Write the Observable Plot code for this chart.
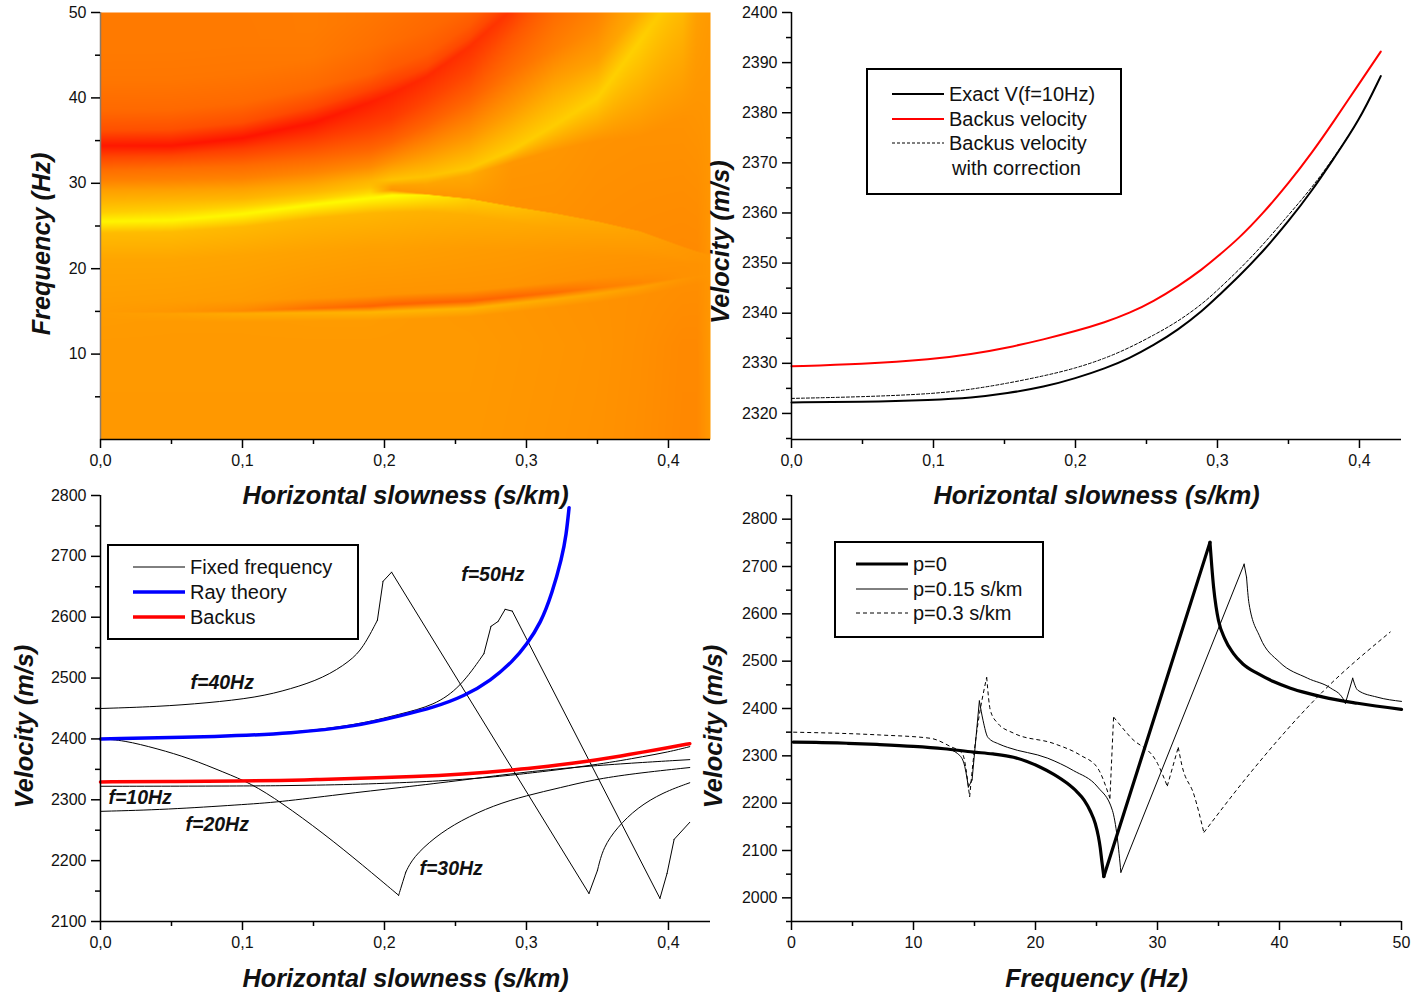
<!DOCTYPE html>
<html><head><meta charset="utf-8">
<script src="https://cdn.jsdelivr.net/npm/d3@7"></script>
<script src="https://cdn.jsdelivr.net/npm/@observablehq/plot@0.6"></script>
<style>
html,body{margin:0;padding:0;background:#fff;}
#root{position:relative;width:1416px;height:994px;overflow:hidden;font-family:"Liberation Sans",Arial,sans-serif;}
.panel{position:absolute;}
.legend{position:absolute;box-sizing:border-box;border:2px solid #000;background:#fff;}
.row{position:absolute;white-space:pre;font-size:20px;line-height:24px;color:#111;}
.sw{position:absolute;}
</style></head><body><div id="root"></div>
<script>
// ---------- Heat map: ridge curves (f in Hz, g = green level of a red→yellow ramp)
const heatX = [0,.05,.1,.15,.19,.205,.23,.26,.29,.32,.35,.38,.41,.42,.43];
const fBottom = heatX.map(()=>0);
const gBottom = [152,152,152,152,152,152,152,152,150,148,146,142,136,136,154];
const fLow = heatX.map(()=>11);
const gLow = [153,153,153,153,153,153,153,153,151,149,147,143,137,137,154];
const fShoulderLo = [13.85,13.75,13.75,13.85,13.9,14,14.15,14.35,14.9,15.45,16.05,16.8,17.8,18.1,18.4];
const gShoulderLo = [155,154,154,155,155,154,153,152,150,148,146,144,142,142,150];
const fStreakGold = [14.85,14.75,14.75,14.85,14.9,15,15.15,15.35,15.9,16.45,17.05,17.8,18.8,19.1,19.4];
const gStreakGold = [156,162,172,178,182,182,182,180,176,172,168,160,150,148,150];
const fStreakDark = [14.9,14.95,15.05,15.35,15.6,15.8,16,16.2,16.7,17.2,17.75,18.3,18.95,19.2,19.5];
const gStreakDark = [156,150,138,112,100,100,100,100,102,110,125,135,145,146,150];
const fShoulderHi = [16.1,16.15,16.25,16.55,16.8,17,17.2,17.4,17.9,18.4,18.95,19.4,19.95,20,20.1];
const gShoulderHi = [158,157,155,150,148,148,148,148,148,146,145,145,145,146,150];
const fMid1 = [21,21,21.5,22,22.3,22.3,22.3,22.3,22,21.8,21.6,21.2,20.6,20.5,20.4];
const gMid1 = [165,165,164,162,160,160,158,156,154,152,150,148,146,146,150];
const fMid2 = [24.2,24.3,24.9,25.9,26.5,26.6,26.7,26.3,25.4,24.6,23.7,22.6,21.2,20.9,20.8];
const gMid2 = [188,188,185,182,182,180,178,175,170,165,160,155,150,148,150];
const fYellow = [25.5,25.65,26.4,27.5,28.25,28.6,28.65,28.15,27.25,26.45,25.5,24.35,22.55,22,21.55];
const gYellow = [245,246,248,250,250,255,240,205,192,178,170,162,152,150,150];
const fEdge = [26.6,26.8,27.3,28.1,28.95,29.2,28.72,28.2,27.3,26.5,25.55,24.4,22.6,22.05,21.6];
const gEdge = [205,208,210,212,215,150,150,150,146,145,142,140,138,138,150];
const fWedge = [28,28.1,28.2,28.95,29.5,29.65,29.9,31,32.45,33.85,34.9,35.4,37.4,38,38.5];
const gWedge = [178,180,182,185,195,160,165,170,150,150,146,145,146,148,150];
const fGold = [29.2,29.3,29.4,29.9,30.35,30.4,30.8,31.75,33.85,36.8,40,46.7,53.5,56,58];
const gGold = [158,158,160,165,180,195,195,200,205,205,208,208,195,165,155];
const fAbove = [30.4,30.5,30.6,31.3,31.9,32.4,33.6,35.5,38.5,42,44.4,50.2,57,59,61];
const gAbove = [128,128,130,132,140,148,150,150,155,160,160,170,165,160,155];
const fRedLo1 = [31.5,31.7,32.1,32.9,33.9,34.8,36.8,39.8,43.2,45.6,47.9,54,60,62,64];
const gRedLo1 = [110,110,106,104,102,100,100,100,112,128,140,160,160,160,155];
const fRedLo2 = [33,33.2,34,35,36.5,37.6,39.6,43,47.3,49.6,51.4,58,65,67,69];
const gRedLo2 = [72,70,62,64,64,60,68,70,85,110,125,150,160,160,155];
const fRed = [34.4,34.4,35.3,37.1,39.5,40.5,42.5,46,50.4,56,62,69,75,77,79.5];
const gRed = [24,22,20,22,30,35,42,48,55,85,100,130,155,155,155];
const fRedUp1 = [36.2,36.3,37.1,38.9,41,41.8,43.6,47,52,58,64,71,77,79,81.5];
const gRedUp1 = [80,80,78,72,68,65,72,72,75,100,120,140,155,155,155];
const fRedUp2 = [38.5,38.6,39.4,41.2,42.8,43.5,45.2,48.5,54,60,66,73,79,81,83.5];
const gRedUp2 = [105,105,105,105,98,90,92,90,90,110,130,150,155,155,155];
const fRedUp3 = [42,42.1,42.9,44.7,46,46.5,47.8,50.5,56,62,68,75,81,83,85.5];
const gRedUp3 = [118,118,118,120,112,108,104,102,102,120,140,155,155,155,155];
const fHigh = [45.5,45.6,46.4,48,49.5,50,51,53,58,64,70,77,83,85,87.5];
const gHigh = [122,122,122,124,118,115,110,110,110,130,150,155,155,155,155];
const fTop = heatX.map(()=>100);
const gTop = [128,128,128,125,120,120,118,118,118,135,150,155,155,155,155];
const heatF = [fBottom,fLow,fShoulderLo,fStreakGold,fStreakDark,fShoulderHi,fMid1,fMid2,fYellow,fEdge,fWedge,fGold,fAbove,fRedLo1,fRedLo2,fRed,fRedUp1,fRedUp2,fRedUp3,fHigh,fTop];
const heatG = [gBottom,gLow,gShoulderLo,gStreakGold,gStreakDark,gShoulderHi,gMid1,gMid2,gYellow,gEdge,gWedge,gGold,gAbove,gRedLo1,gRedLo2,gRed,gRedUp1,gRedUp2,gRedUp3,gHigh,gTop];

// ---------- Panel B
const slowB = [0,.049,.1,.1265,.152,.178,.2,.221,.238,.255,.272,.29,.3,.315,.332,.35,.367,.381,.4,.415];
const exactV = [2322.2,2322.3,2322.7,2323.1,2324,2325.3,2327,2329,2331,2333.6,2336.6,2340.6,2343.3,2347.3,2352.3,2358.3,2364.6,2370.5,2378.5,2387.3];
const backusV = [2329.4,2329.8,2330.8,2331.8,2333.1,2334.8,2336.4,2338.2,2340,2342.4,2345.3,2348.9,2351.3,2354.9,2359.9,2365.9,2372.2,2377.9,2385.9,2392.2];
const correctedV = [2323,2323.3,2323.9,2324.8,2326,2327.5,2329,2331,2333.1,2335.6,2338.3,2342,2344.6,2348.6,2353.6,2359.6,2365.2,2370.7,2378.5,2387.3];

// ---------- Panel C (each inner list is one smooth stretch between corners)
const f20 = [[[0,2281],[.047,2284],[.099,2292],[.125,2296],[.169,2309],[.211,2320],[.258,2333],[.289,2343],[.343,2356],[.415,2366]]];
const f30 = [[[0,2400],[.016,2398],[.04,2384],[.063,2368],[.087,2345],[.106,2327],[.127,2296],[.157,2245],[.185,2192],[.21,2143]],
  [[.21,2143],[.211,2151],[.215,2181]],
  [[.215,2181],[.22,2205],[.235,2238],[.2535,2266],[.277,2291],[.3,2307],[.324,2320],[.347,2333],[.375,2343],[.415,2353]]];
const f40 = [[[0,2450],[.04,2453],[.075,2459],[.11,2468],[.134,2482],[.157,2500],[.176,2528],[.185,2550],[.195,2595]],
  [[.195,2595],[.199,2659]],[[.199,2659],[.205,2674]],[[.205,2674],[.344,2146]],
  [[.344,2146],[.35,2184]],[[.35,2184],[.354,2222],[.364,2255],[.378,2287],[.396,2312],[.415,2328]]];
const f50 = [[[0,2400],[.087,2404],[.134,2410],[.181,2423],[.211,2441],[.235,2455],[.2535,2485],[.27,2540]],
  [[.27,2540],[.275,2585]],[[.275,2585],[.28,2593]],[[.28,2593],[.285,2613]],[[.285,2613],[.29,2610]],[[.29,2610],[.394,2138]],
  [[.394,2138],[.399,2179]],[[.399,2179],[.404,2235]],[[.404,2235],[.415,2263]]];
const rayTheory = [[0,2400],[.087,2404],[.134,2409],[.181,2421],[.211,2438],[.235,2452],[.256,2470],[.275,2496],[.291,2529],[.3,2555],[.31,2590],[.318,2639],[.325,2698],[.328,2735],[.33,2780]];
const annotX = [.254,.0634,.0056,.0599,.2246];
const annotV = [2670,2493,2304,2259,2187];
const annotT = ["f=50Hz","f=40Hz","f=10Hz","f=20Hz","f=30Hz"];

// ---------- Panel D
const p0 = [[[.14,2329],[2,2328.5],[4.6,2326.5],[7,2324],[10,2320],[12.5,2315],[14.9,2308],[16.5,2304],[18.2,2297],[19.3,2288],[20.4,2276],[21.5,2261],[22.6,2242],[23.4,2224],[24,2206],[24.5,2183],[24.9,2157],[25.15,2130],[25.3,2107],[25.45,2075],[25.6,2045]],
  [[25.6,2045],[34.3,2751]],
  [[34.3,2751],[34.45,2700],[34.6,2656],[34.8,2615],[35,2586],[35.5,2548],[36.2,2517],[37,2494],[38.2,2474],[39.5,2457],[40.9,2443],[42.2,2433],[43.6,2424],[46.4,2411],[50,2398]]];
const p15 = [[[.14,2329],[4.6,2326.5],[10,2320],[12.8,2314],[13.6,2305],[14.1,2287],[14.5,2234]],
  [[14.5,2234],[14.8,2249]],[[14.8,2249],[15.4,2416]],
  [[15.4,2416],[15.7,2375],[16.1,2339],[17,2325],[17.7,2318],[21,2295],[23.1,2269],[25.1,2234],[26.3,2185],[26.7,2128],[27,2054]],
  [[27,2054],[37.1,2705]],[[37.1,2705],[37.3,2677]],
  [[37.3,2677],[37.5,2622],[38.4,2551],[40,2498],[42.3,2464],[44.2,2443],[45.2,2421],[45.4,2411]],
  [[45.4,2411],[46,2464]],[[46,2464],[46.4,2439],[48,2424],[50,2415]]];
const p30 = [[[.14,2350],[7.3,2344],[11.4,2337],[13,2320],[14,2305],[14.6,2213]],
  [[14.6,2213],[14.9,2291],[16,2466]],
  [[16,2466],[16.3,2396],[16.9,2369],[18.2,2348],[21.5,2326],[23.7,2301],[25.1,2274],[26.1,2210]],
  [[26.1,2210],[26.4,2382]],
  [[26.4,2382],[27.8,2339],[30,2284],[30.8,2236]],
  [[30.8,2236],[31.7,2318]],[[31.7,2318],[32,2280],[33,2217],[33.8,2138]],
  [[33.8,2138],[37.8,2270],[43.6,2437],[49.1,2562]]];

// ---------- Tick lists
const slowMajor = [0,.1,.2,.3,.4];
const slowMinor = [.05,.15,.25,.35];
const freqMajorA = [10,20,30,40,50];
const freqMinorA = [5,15,25,35,45];
const velMajorB = d3.range(2320,2401,10);
const velMinorB = d3.range(2315,2400,10);
const velMajorC = d3.range(2100,2801,100);
const velMinorC = d3.range(2150,2800,100);
const velMajorD = d3.range(2000,2801,100);
const velMinorD = d3.range(1950,2851,100);
const freqMajorD = [0,10,20,30,40,50];
const freqMinorD = [5,15,25,35,45];

const FONT = '"Liberation Sans",Arial,sans-serif';
const comma = d => d.toFixed(1).replace(".",",");
const TICK = 16;
const TITLE = 25.3;

function axes({xMajor,xMinor,yMajor,yMinor,xFmt,xLabel,yLabel,yLabelDx,yLabelDy,xMin,yMin,xLabelDy,yLine="#000"}){
  return [
    Plot.ruleX([xMin],{stroke:yLine,strokeWidth:1.5}),
    Plot.ruleY([yMin],{stroke:"#000",strokeWidth:1.5}),
    Plot.axisX({ticks:xMajor,tickSize:9,tickPadding:6,tickFormat:xFmt,label:null,fontSize:TICK,strokeWidth:1.5,stroke:"#000",fill:"#111",anchor:"bottom"}),
    Plot.axisX({ticks:xMinor,tickSize:5,tickFormat:()=>"",label:null,strokeWidth:1.5,stroke:"#000",anchor:"bottom"}),
    Plot.axisY({ticks:yMajor,tickSize:9,tickPadding:5,label:null,tickFormat:d=>String(d),fontSize:TICK,strokeWidth:1.5,stroke:"#000",fill:"#111",anchor:"left"}),
    Plot.axisY({ticks:yMinor,tickSize:5,tickFormat:()=>"",label:null,strokeWidth:1.5,stroke:"#000",anchor:"left"}),
    Plot.text([xLabel],{frameAnchor:"bottom",dy:xLabelDy,lineAnchor:"middle",fontSize:TITLE,fontWeight:"bold",fontStyle:"italic",fill:"#111",text:d=>d}),
    Plot.text([yLabel],{frameAnchor:"left",dx:yLabelDx,dy:yLabelDy,rotate:-90,textAnchor:"middle",lineAnchor:"middle",fontSize:TITLE,fontWeight:"bold",fontStyle:"italic",fill:"#111",text:d=>d})
  ];
}

function place(plot,left,top){
  const d=document.createElement("div");
  d.className="panel";d.style.left=left+"px";d.style.top=top+"px";d.style.width="716px";
  d.appendChild(plot);document.getElementById("root").appendChild(d);
}
const base = {width:716,style:{background:"transparent",fontFamily:FONT,overflow:"visible"}};

// Flatten stretches into rows with a stretch id, so each is drawn as its own smooth piece
const stretches = list => list.flatMap((s,i)=>s.map(p=>({x:p[0],y:p[1],z:i})));
function piecewise(list,opts){
  return Plot.line(stretches(list),{x:"x",y:"y",z:"z",curve:"monotone-x",strokeLinecap:"round",stroke:"#000",strokeWidth:1,...opts});
}

// Look up the heat level between the hand-read ridge curves
function level(x,f){
  let j=d3.bisectRight(heatX,x)-1; j=Math.max(0,Math.min(heatX.length-2,j));
  const t=(x-heatX[j])/(heatX[j+1]-heatX[j]);
  let pf=-1,pg=0;
  for(let k=0;k<heatF.length;k++){
    const ff=heatF[k][j]*(1-t)+heatF[k][j+1]*t, gg=heatG[k][j]*(1-t)+heatG[k][j+1]*t;
    if(ff>=f){
      if(k===0) return gg;
      return pg+(gg-pg)*(f-pf)/Math.max(ff-pf,1e-6);
    }
    pf=ff;pg=gg;
  }
  return pg;
}

// Panel A
place(Plot.plot({...base,height:512,marginLeft:100,marginRight:6,marginTop:12,marginBottom:73,
  x:{domain:[0,.4296]},y:{domain:[0,50]},
  color:{type:"linear",domain:[0,255],range:["#ff0000","#ffff00"],interpolate:"rgb"},
  marks:[
    Plot.raster({fill:(x,y)=>level(x,y),x1:0,x2:.4296,y1:0,y2:50,pixelSize:1}),
    ...axes({xMajor:slowMajor,xMinor:slowMinor,yMajor:freqMajorA,yMinor:freqMinorA,xFmt:comma,xLabel:"Horizontal slowness (s/km)",yLabel:"Frequency (Hz)",yLabelDx:-59,yLabelDy:18,xMin:0,yMin:0,xLabelDy:56,yLine:"#8a7a6a"})
  ]}),0,0);

// Panel B
const tableB = slowB.map((x,i)=>({x,exact:exactV[i],backus:backusV[i],corrected:correctedV[i]}));
place(Plot.plot({...base,height:512,marginLeft:91,marginRight:15,marginTop:12,marginBottom:73,
  x:{domain:[0,.4296]},y:{domain:[2314.8,2400]},
  marks:[
    Plot.line(tableB,{x:"x",y:"corrected",stroke:"#000",strokeWidth:1,strokeDasharray:"3,2",curve:"basis"}),
    Plot.line(tableB,{x:"x",y:"exact",stroke:"#000",strokeWidth:2,curve:"basis"}),
    Plot.line(tableB,{x:"x",y:"backus",stroke:"#f00",strokeWidth:2,curve:"basis"}),
    ...axes({xMajor:slowMajor,xMinor:slowMinor,yMajor:velMajorB,yMinor:velMinorB,xFmt:comma,xLabel:"Horizontal slowness (s/km)",yLabel:"Velocity (m/s)",yLabelDx:-71,yLabelDy:16,xMin:0,yMin:2314.8,xLabelDy:56})
  ]}),700,0);

// Panel C
const smooth = {curve:"basis"};
place(Plot.plot({...base,height:511,marginLeft:100,marginRight:6,marginTop:12,marginBottom:73,
  x:{domain:[0,.4296]},y:{domain:[2100,2800]},
  marks:[
    Plot.line(tableB,{x:"x",y:"exact",stroke:"#000",strokeWidth:1,curve:"basis"}),
    piecewise(f20,smooth),piecewise(f30,smooth),piecewise(f40,smooth),piecewise(f50,smooth),
    Plot.line(rayTheory,{x:d=>d[0],y:d=>d[1],stroke:"#00f",strokeWidth:3.5,curve:"basis"}),
    Plot.line(tableB,{x:"x",y:"backus",stroke:"#f00",strokeWidth:3.5,curve:"basis"}),
    Plot.text(annotT,{x:(d,i)=>annotX[i],y:(d,i)=>annotV[i],text:d=>d,textAnchor:"start",fontSize:19.5,fontWeight:"bold",fontStyle:"italic",fill:"#111"}),
    ...axes({xMajor:slowMajor,xMinor:slowMinor,yMajor:velMajorC,yMinor:velMinorC,xFmt:comma,xLabel:"Horizontal slowness (s/km)",yLabel:"Velocity (m/s)",yLabelDx:-76,yLabelDy:18,xMin:0,yMin:2100,xLabelDy:57})
  ]}),0,483);

// Panel D
place(Plot.plot({...base,height:511,marginLeft:91,marginRight:15,marginTop:12,marginBottom:73,
  x:{domain:[0,50]},y:{domain:[1950,2850]},
  marks:[
    piecewise(p30,{strokeDasharray:"4,3",strokeLinecap:"butt"}),
    piecewise(p15,{}),
    piecewise(p0,{strokeWidth:3.2}),
    ...axes({xMajor:freqMajorD,xMinor:freqMinorD,yMajor:velMajorD,yMinor:velMinorD,xFmt:d=>String(d),xLabel:"Frequency (Hz)",yLabel:"Velocity (m/s)",yLabelDx:-78,yLabelDy:18,xMin:0,yMin:1950,xLabelDy:57})
  ]}),700,483);

// Legends
function legend(left,top,w,h,rows){
  const box=document.createElement("div");box.className="legend";
  box.style.cssText=`left:${left}px;top:${top}px;width:${w}px;height:${h}px;`;
  for(const r of rows){
    const t=document.createElement("div");t.className="row";t.textContent=r.label;
    t.style.left=(r.tx-left-2)+"px";t.style.top=(r.y-top-2-12)+"px";box.appendChild(t);
    if(r.stroke){
      const s=document.createElementNS("http://www.w3.org/2000/svg","svg");
      s.setAttribute("class","sw");s.setAttribute("width",52);s.setAttribute("height",8);
      s.style.left=(r.sx-left-2)+"px";s.style.top=(r.y-top-2-4)+"px";
      const l=document.createElementNS("http://www.w3.org/2000/svg","line");
      l.setAttribute("x1",0);l.setAttribute("x2",52);l.setAttribute("y1",4);l.setAttribute("y2",4);
      l.setAttribute("stroke",r.stroke);l.setAttribute("stroke-width",r.sw);
      if(r.dash)l.setAttribute("stroke-dasharray",r.dash);
      s.appendChild(l);box.appendChild(s);
    }
  }
  document.getElementById("root").appendChild(box);
}
legend(866,68,256,127,[
  {label:"Exact V(f=10Hz)",tx:949,y:94,sx:892,stroke:"#000",sw:2},
  {label:"Backus velocity",tx:949,y:119,sx:892,stroke:"#f00",sw:2},
  {label:"Backus velocity",tx:949,y:143,sx:892,stroke:"#000",sw:1,dash:"3,2"},
  {label:"with correction",tx:952,y:168}
]);
legend(107,544,252,96,[
  {label:"Fixed frequency",tx:190,y:567,sx:133,stroke:"#000",sw:1},
  {label:"Ray theory",tx:190,y:592,sx:133,stroke:"#00f",sw:3.5},
  {label:"Backus",tx:190,y:617,sx:133,stroke:"#f00",sw:3.5}
]);
legend(834,541,210,97,[
  {label:"p=0",tx:913,y:564,sx:856,stroke:"#000",sw:3.2},
  {label:"p=0.15 s/km",tx:913,y:589,sx:856,stroke:"#000",sw:1},
  {label:"p=0.3 s/km",tx:913,y:613,sx:856,stroke:"#000",sw:1,dash:"4,3"}
]);
</script></body></html>
